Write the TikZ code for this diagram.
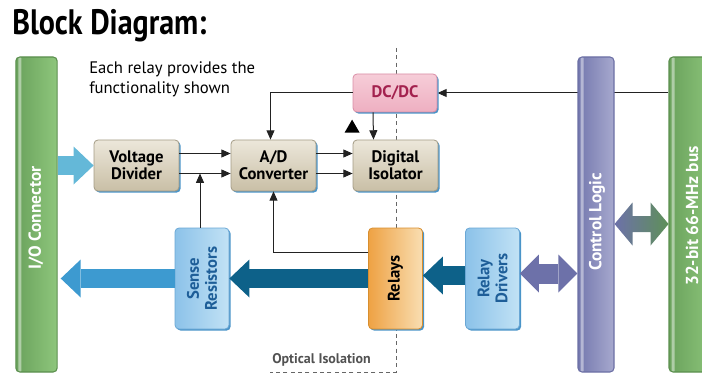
\documentclass[tikz,border=0pt]{standalone}
\usepackage{fontspec}
\setmainfont{PT Sans}
\newfontfamily\headfont[FakeStretch=0.85]{PT Sans}
\usetikzlibrary{arrows.meta,calc,shadows,backgrounds}

\definecolor{tantop}{HTML}{ECE7DA}
\definecolor{tanbot}{HTML}{C9BFA6}
\definecolor{tanline}{HTML}{A39B85}
\definecolor{pinktop}{HTML}{F6CDD8}
\definecolor{pinkbot}{HTML}{EEAFC1}
\definecolor{pinkline}{HTML}{D98EA6}
\definecolor{pinktext}{HTML}{A3214E}
\definecolor{skyleft}{HTML}{8CC2E9}
\definecolor{skyright}{HTML}{C2E2F5}
\definecolor{skyline}{HTML}{6AA7D5}
\definecolor{skytext}{HTML}{1E5E98}
\definecolor{orleft}{HTML}{EEA244}
\definecolor{orright}{HTML}{F9DEB2}
\definecolor{orline}{HTML}{D88E2E}
\definecolor{grleft}{HTML}{6AA25C}
\definecolor{grright}{HTML}{8EC67C}
\definecolor{grline}{HTML}{5B8F4E}
\definecolor{puleft}{HTML}{7478AE}
\definecolor{puright}{HTML}{A7A9CE}
\definecolor{puline}{HTML}{6C70A5}
\definecolor{shadowblue}{HTML}{4A94C8}
\definecolor{inblue}{HTML}{64B8D8}
\definecolor{outblue}{HTML}{3D9AD0}
\definecolor{teal}{HTML}{0D6189}
\definecolor{dblpurple}{HTML}{6D71A9}
\definecolor{dblgreen}{HTML}{5E9058}
\definecolor{linegray}{HTML}{222222}
\definecolor{isogray}{HTML}{666666}

\begin{document}
\begin{tikzpicture}[x=0.75pt,y=0.75pt,yscale=-1,xscale=1,
  blk/.style={draw=#1, rounded corners=3pt, line width=0.6pt, inner sep=0pt,
    align=center, font=\fontsize{12.5}{13}\selectfont\bfseries,
    drop shadow={shadow xshift=1.2pt, shadow yshift=-1.2pt, fill=shadowblue, opacity=1}},
  tanbox/.style={blk=tanline, top color=tantop, bottom color=tanbot,
    minimum width=63.75pt, minimum height=38.25pt,
    path picture={\fill[white,opacity=0.5] ($(path picture bounding box.north west)+(4,3)$) rectangle ($(path picture bounding box.north east)+(-4,6)$);}},
  vbox/.style={blk=#1, minimum width=40.5pt, minimum height=75.75pt},
  vtext/.style={rotate=90, align=center, inner sep=0pt, font=\fontsize{12.5}{13.5}\selectfont\bfseries},
  bar/.style={draw=#1, rounded corners=3pt, line width=0.8pt, minimum height=236.25pt,
    path picture={\fill[white,opacity=0.45] ($(path picture bounding box.north west)+(2.5,3)$) rectangle ($(path picture bounding box.south west)+(5.5,-3)$);}},
  bartext/.style={rotate=90, text=white, inner sep=0pt, font=\fontsize{13}{15}\selectfont\bfseries},
  arr/.style={draw=linegray, line width=0.75pt, -{Triangle[length=7pt,width=6pt]}},
  fat/.style={draw=#1, line width=14.25pt, -{Triangle[length=15pt,width=28.5pt,line width=0pt]}},
  dblarr/.style={draw=#1, line width=15pt, {Triangle[length=14.25pt,width=28.5pt,line width=0pt]}-{Triangle[length=14.25pt,width=28.5pt,line width=0pt]}},
  isoline/.style={draw=isogray, line width=0.75pt, dash pattern=on 3pt off 2.5pt}
]
\useasboundingbox (0,0) rectangle (702,374);
\clip (0,0) rectangle (702,374);

% Title
\node[anchor=base west, inner sep=0pt, font=\headfont\bfseries\fontsize{26.5}{30}\selectfont] (title) at (12,35) {Block Diagram:};
% Note
\node[anchor=north west, inner sep=0pt, align=left, font=\fontsize{12.5}{15}\selectfont] (note) at (89,61) {Each relay provides the\\functionality shown};

% Isolation barrier
\draw[isoline] (396,48) -- (396,372) -- (270,372);
\node[anchor=base west, inner sep=0pt, text=isogray!80!black, font=\fontsize{10.5}{12}\selectfont\bfseries] (optlbl) at (272,363) {Optical Isolation};

% Bars
\node[bar=grline, left color=grleft, right color=grright, minimum width=31pt] (io) at (36.5,214.5) {};
\node[bar=puline, left color=puleft, right color=puright, minimum width=27pt] (ctrl) at (596,214.5) {};
\node[bar=grline, left color=grleft, right color=grright, minimum width=34.5pt] (bus) at (692,214.5) {};
\node[bartext] (iolbl) at (36,218) {I/O Connector};
\node[bartext] (ctrllbl) at (597,222) {Control Logic};
\node[bartext] (buslbl) at (692,216) {32-bit 66-MHz bus};

% Blocks
\node[tanbox] (div) at (136.5,165.5) {Voltage\\Divider};
\node[tanbox] (adc) at (273.5,165.5) {A/D\\Converter};
\node[tanbox] (iso) at (395.5,165.5) {Digital\\Isolator};
\node[blk=pinkline, top color=pinktop, bottom color=pinkbot, text=pinktext,
  minimum width=63pt, minimum height=28.5pt] (dcdc) at (395,93) {DC/DC};
\node[vbox=skyline, left color=skyleft, right color=skyright] (sense) at (202,278.5) {};
\node[vbox=orline, left color=orleft, right color=orright] (relays) at (395.5,278.5) {};
\node[vbox=skyline, left color=skyleft, right color=skyright] (drivers) at (492.5,278.5) {};
\node[vtext, text=skytext] (senselbl) at (sense) {Sense\\Resistors};
\node[vtext] (relayslbl) at (relays) {Relays};
\node[vtext, text=skytext] (driverslbl) at (drivers) {Relay\\Drivers};

% Signal lines
\begin{scope}[on background layer]
\draw[arr] (bus.west |- dcdc.east) -- (dcdc.east);
\end{scope}
\draw[arr] (dcdc.west) -| ($(adc.north)+(-3,0)$);
\draw[arr] ($(dcdc.south)+(-22,0)$) -- ($(iso.north)+(-22,0)$);
\draw[arr] ($(div.east)+(0,-12)$) -- ($(adc.west)+(0,-12)$);
\draw[arr] ($(div.east)+(0,8)$) -- ($(adc.west)+(0,8)$);
\draw[arr] ($(adc.east)+(0,-12)$) -- ($(iso.west)+(0,-12)$);
\draw[arr] ($(adc.east)+(0,8)$) -- ($(iso.west)+(0,8)$);
\draw[arr] ($(sense.north)+(-2,0)$) -- ($(sense.north |- div.east)+(-2,8)$);
\draw[arr] ($(relays.west)+(0,-26)$) -| (adc.south);
\fill ($(iso.north west)+(-8,-7)$) -- ++(15,0) -- ++(-7.5,-13) -- cycle;

% Power arrows
\draw[fat=inblue] (io.east |- div) -- (div.west);
\draw[fat=outblue] (sense.west) -- ($(io.east |- sense)+(3,0)$);
\draw[fat=teal] (relays.west) -- (sense.east);
\draw[fat=teal] ($(drivers.west)+(0,-3)$) -- ($(relays.east)+(0,-3)$);
\draw[dblarr=dblpurple] ($(drivers.east)+(0,-5)$) -- ($(ctrl.west |- drivers)+(0,-5)$);
\coordinate (gl) at (ctrl.east |- 0,224);
\shade[left color=dblpurple, right color=dblgreen] (gl) -- ++(18,-21.5) -- ++(0,13.5) -- ++(18,0) -- ++(0,-13.5) -- ++(18,21.5) -- ++(-18,21.5) -- ++(0,-13.5) -- ++(-18,0) -- ++(0,13.5) -- cycle;

\end{tikzpicture}
\end{document}
